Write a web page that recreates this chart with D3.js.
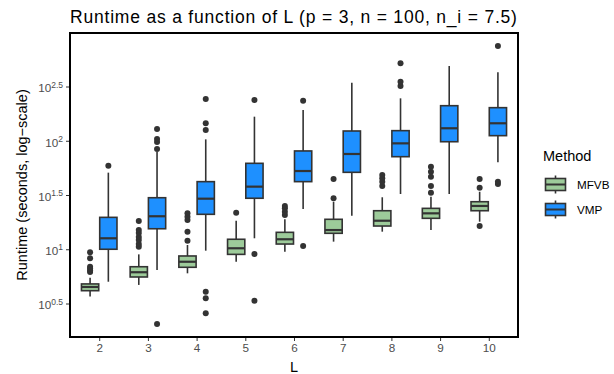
<!DOCTYPE html>
<html>
<head>
<meta charset="utf-8">
<script src="https://cdn.jsdelivr.net/npm/d3@7"></script>
<style>
  html, body { margin: 0; padding: 0; background: #fff; }
  svg { display: block; font-family: "Liberation Sans", Arial, Helvetica, sans-serif; }
</style>
</head>
<body>
<svg id="chart" width="614" height="374"></svg>
<script>
// Number of latent components
const categories = [2, 3, 4, 5, 6, 7, 8, 9, 10];
const methods = ["MFVB", "VMP"];

// Runtime box statistics in seconds, one entry per L
const mfvbLow    = [3.66, 4.69, 6.00, 7.67, 9.48, 11.75, 14.52, 15.03, 17.95];
const mfvbQ1     = [4.15, 5.55, 6.82, 8.97, 11.17, 14.03, 16.37, 19.28, 22.65];
const mfvbMedian = [4.49, 6.14, 7.67, 10.21, 12.36, 15.03, 18.32, 21.43, 25.06];
const mfvbQ3     = [4.79, 6.90, 8.67, 12.36, 14.32, 18.88, 22.65, 23.82, 27.42];
const mfvbHigh   = [5.47, 8.97, 10.94, 18.32, 18.88, 27.42, 30.13, 30.48, 33.88];
const mfvbOutliers = [
  [6.17, 6.37, 6.65, 6.90, 8.26, 9.38],
  [10.57, 11.17, 12.16, 12.97, 14.13, 15.03, 18.20],
  [11.99, 14.52, 18.62, 19.95, 21.43],
  [21.73],
  [20.70, 22.18, 23.82, 25.06],
  [29.51, 44.36],
  [38.28, 41.98, 45.08, 48.31],
  [33.19, 38.28, 46.67, 51.88, 57.68],
  [16.37, 36.90, 44.36]
];

const vmpLow    = [5.02, 6.44, 9.70, 12.62, 23.50, 20.37, 32.28, 32.28, 63.24];
const vmpQ1     = [10.0, 15.45, 20.99, 29.51, 41.98, 51.17, 71.29, 97.95, 111.4];
const vmpMedian = [12.62, 20.14, 29.24, 37.76, 52.60, 75.51, 94.62, 130.3, 144.9];
const vmpQ3     = [19.68, 29.85, 41.98, 61.94, 80.54, 123.0, 123.9, 210.4, 201.8];
const vmpHigh   = [50.82, 78.7, 103.0, 166.7, 191.9, 342.8, 246.0, 488.7, 427.6];
const vmpOutliers = [
  [58.88],
  [2.05, 83.9, 97.2, 103.8, 128.2],
  [2.57, 3.53, 4.06, 125.6, 144.9, 242.7],
  [3.36, 9.04, 237.7],
  [10.72, 233.9],
  [],
  [319.9, 349.9, 517.6],
  [],
  [39.90, 41.98, 746.5]
];

// Axis ticks (powers of ten) and their exponent labels
const yTickExponents = ["0.5", "1", "1.5", "2", "2.5"];
const yTickValues = yTickExponents.map(e => Math.pow(10, +e));

const colors = { MFVB: "#9dcb9a", VMP: "#1e90ff" };
const ink = "#333333";

const svg = d3.select("#chart");
const panel = { left: 70, right: 518, top: 33, bottom: 337 };

const x = d3.scalePoint()
  .domain(categories)
  .range([panel.left, panel.right])
  .padding(0.6);
const step = x.step();
const dodge = d3.scaleBand().domain(methods).range([-0.375 * step, 0.375 * step]);

const y = d3.scaleLog()
  .domain([Math.pow(10, 0.5), Math.pow(10, 2.5)])
  .range([303.5, 86.5]);

const series = {
  MFVB: { low: mfvbLow, q1: mfvbQ1, med: mfvbMedian, q3: mfvbQ3, high: mfvbHigh, out: mfvbOutliers },
  VMP:  { low: vmpLow,  q1: vmpQ1,  med: vmpMedian,  q3: vmpQ3,  high: vmpHigh,  out: vmpOutliers }
};

const boxes = [];
methods.forEach(m => {
  categories.forEach((c, i) => {
    const s = series[m];
    boxes.push({ method: m, cat: c, low: s.low[i], q1: s.q1[i], med: s.med[i], q3: s.q3[i], high: s.high[i], out: s.out[i] });
  });
});

// Title
svg.append("text")
  .attr("x", panel.left).attr("y", 23)
  .attr("font-size", 17.5).attr("letter-spacing", 0.8).attr("fill", "#000")
  .text("Runtime as a function of L (p = 3, n = 100, n_i = 7.5)");

const plot = svg.append("g");
const bw = dodge.bandwidth();

const g = plot.selectAll("g.box").data(boxes).join("g").attr("class", "box");
const cx = d => x(d.cat) + dodge(d.method) + bw / 2;

// whiskers
g.append("line")
  .attr("x1", cx).attr("x2", cx)
  .attr("y1", d => y(d.high)).attr("y2", d => y(d.q3))
  .attr("stroke", ink).attr("stroke-width", 1.6);
g.append("line")
  .attr("x1", cx).attr("x2", cx)
  .attr("y1", d => y(d.q1)).attr("y2", d => y(d.low))
  .attr("stroke", ink).attr("stroke-width", 1.6);
// box
g.append("rect")
  .attr("x", d => x(d.cat) + dodge(d.method) + 0.5)
  .attr("width", bw - 1)
  .attr("y", d => y(d.q3))
  .attr("height", d => y(d.q1) - y(d.q3))
  .attr("fill", d => colors[d.method])
  .attr("stroke", ink).attr("stroke-width", 1.6);
// median
g.append("line")
  .attr("x1", d => x(d.cat) + dodge(d.method) + 0.5)
  .attr("x2", d => x(d.cat) + dodge(d.method) + bw - 0.5)
  .attr("y1", d => y(d.med)).attr("y2", d => y(d.med))
  .attr("stroke", ink).attr("stroke-width", 2.2);
// outliers
g.selectAll("circle").data(d => d.out.map(v => ({ v, d }))).join("circle")
  .attr("cx", o => cx(o.d)).attr("cy", o => y(o.v))
  .attr("r", 3).attr("fill", ink);

// Panel border
svg.append("rect")
  .attr("x", panel.left).attr("y", panel.top)
  .attr("width", panel.right - panel.left).attr("height", panel.bottom - panel.top)
  .attr("fill", "none").attr("stroke", "#000").attr("stroke-width", 2);

// x axis
const xAxis = svg.append("g")
  .attr("transform", `translate(0,${panel.bottom + 1})`)
  .call(d3.axisBottom(x).tickSize(3).tickPadding(3));
xAxis.select(".domain").remove();
xAxis.selectAll(".tick line").attr("stroke", ink).attr("stroke-width", 1);
xAxis.selectAll(".tick text").attr("fill", "#4d4d4d").attr("font-size", 11.7)
  .attr("font-family", "Liberation Sans, Arial, sans-serif");

// y axis
const yAxis = svg.append("g")
  .attr("transform", `translate(${panel.left - 1},0)`)
  .call(d3.axisLeft(y).tickValues(yTickValues).tickSize(3).tickPadding(3).tickFormat(""));
yAxis.select(".domain").remove();
yAxis.selectAll(".tick line").attr("stroke", ink).attr("stroke-width", 1);
yAxis.selectAll(".tick text").each(function(v, i) {
  const t = d3.select(this)
    .attr("fill", "#4d4d4d").attr("font-size", 11.7)
    .attr("font-family", "Liberation Sans, Arial, sans-serif")
    .attr("dy", "0.45em");
  t.append("tspan").text("10");
  t.append("tspan").attr("dy", "-0.55em").attr("font-size", 8.5).text(yTickExponents[i]);
});

// Axis titles
svg.append("text")
  .attr("x", (panel.left + panel.right) / 2).attr("y", 372)
  .attr("text-anchor", "middle").attr("font-size", 14.5).attr("fill", "#000")
  .text("L");
svg.append("text")
  .attr("transform", `translate(27,${(panel.top + panel.bottom) / 2}) rotate(-90)`)
  .attr("text-anchor", "middle").attr("font-size", 14.5).attr("fill", "#000")
  .text("Runtime (seconds, log\u2212scale)");

// Legend
const legend = svg.append("g").attr("transform", "translate(543,0)");
legend.append("text").attr("x", 0).attr("y", 161)
  .attr("font-size", 14.5).attr("fill", "#000").text("Method");
const item = legend.selectAll("g.item").data(methods).join("g")
  .attr("class", "item")
  .attr("transform", (m, i) => `translate(0,${184.5 + i * 25})`);
item.append("line").attr("x1", 12.5).attr("x2", 12.5).attr("y1", -9).attr("y2", 9)
  .attr("stroke", ink).attr("stroke-width", 1.6);
item.append("rect").attr("x", 2.5).attr("y", -6).attr("width", 20).attr("height", 12)
  .attr("fill", m => colors[m]).attr("stroke", ink).attr("stroke-width", 1.6);
item.append("line").attr("x1", 2.5).attr("x2", 22.5).attr("y1", 0).attr("y2", 0)
  .attr("stroke", ink).attr("stroke-width", 2);
item.append("text").attr("x", 34).attr("y", 0).attr("dy", "0.36em")
  .attr("font-size", 11.7).attr("fill", "#000").text(m => m);
</script>
</body>
</html>
